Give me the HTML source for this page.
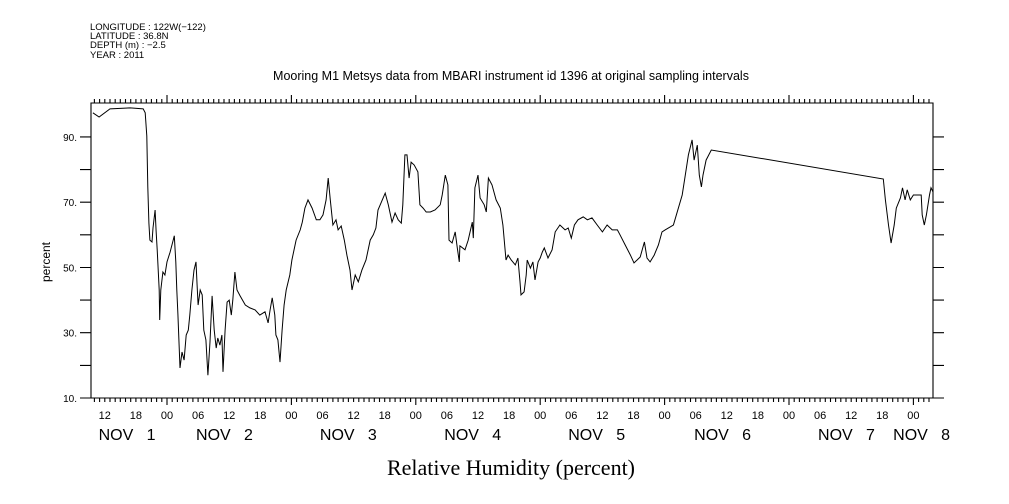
<!DOCTYPE html>
<html><head><meta charset="utf-8">
<style>
body{margin:0;background:#fff;}
svg{display:block;font-family:"Liberation Sans",sans-serif;}
</style></head>
<body>
<svg id="chart" width="1009" height="504" viewBox="0 0 1009 504" xmlns="http://www.w3.org/2000/svg">
<g font-size="9.5" fill="#000">
<text x="90" y="30">LONGITUDE : 122W(−122)</text>
<text x="90" y="39">LATITUDE : 36.8N</text>
<text x="90" y="48">DEPTH (m) : −2.5</text>
<text x="90" y="58">YEAR : 2011</text>
</g>
<text x="511" y="80" font-size="12.5" text-anchor="middle">Mooring M1 Metsys data from MBARI instrument id 1396 at original sampling intervals</text>
<text x="0" y="0" font-size="12" text-anchor="middle" transform="translate(50,262) rotate(-90)">percent</text>
<text x="511" y="475" font-size="22" font-family="Liberation Serif, serif" text-anchor="middle">Relative Humidity (percent)</text>
<g id="axes"></g>
<path id="series" fill="none" stroke="#000" stroke-width="1"/>
</svg>
<script>
const hours=[-14.3,-13.1,-11.0,-7.1,-4.6,-4.2,-4.1,-3.9,-3.7,-3.5,-3.3,-2.9,-2.7,-2.3,-2.1,-1.9,-1.5,-1.4,-1.2,-0.8,-0.4,0,0.6,1.2,1.4,1.7,1.9,2.1,2.3,2.5,2.9,3.3,3.7,4.1,4.4,4.8,5.2,5.6,5.8,6.0,6.4,6.8,7.1,7.5,7.9,8.3,8.7,9.1,9.5,9.8,10.2,10.6,10.8,11.2,11.6,12.0,12.4,12.7,13.1,13.5,14.1,15.1,16.0,17.0,17.9,18.9,19.5,19.9,20.3,20.8,21.0,21.4,21.8,22.2,22.6,23.0,23.7,24.1,24.9,25.7,26.1,26.6,27.2,28.0,28.8,29.5,30.1,30.7,31.1,31.5,32.0,32.6,33.0,33.6,34.2,34.7,35.3,35.7,36.3,36.9,37.6,38.4,39.2,39.8,40.3,40.7,42.1,42.7,43.4,44.0,44.6,45.2,45.5,45.9,46.3,46.7,47.1,47.7,48.4,48.8,49.4,50.0,50.8,51.7,52.7,53.1,53.7,54.2,54.4,55.0,55.6,56.0,56.4,56.5,57.5,58.1,58.9,59.1,59.4,60.0,60.4,61.2,61.6,62.0,62.7,63.5,64.3,64.8,65.4,65.8,66.4,67.2,67.7,68.1,68.3,68.9,69.3,69.5,70.1,70.6,71.0,71.6,72.0,72.4,72.8,73.5,74.3,74.9,75.8,76.8,77.4,78.0,78.6,79.3,80.3,81.1,82.0,83.0,84.0,84.9,85.9,86.9,87.4,88.4,89.4,90.1,90.7,91.3,92.1,92.6,93.2,94.0,94.8,95.5,96.1,97.7,99.4,100.0,100.6,101.3,101.7,102.3,102.7,103.1,103.4,104.0,105.0,138.2,138.6,139.2,139.7,140.3,140.7,141.5,141.9,142.4,142.8,143.4,144.0,144.8,145.5,145.7,146.1,146.5,147.1,147.4,147.8];
const humidity=[97.4,96.1,98.6,98.9,98.6,97.4,95.2,90.3,74.7,63.6,58.4,57.8,62.1,67.6,61.2,55.4,43.1,33.9,43.1,48.6,47.7,51.7,54.7,58.4,59.7,51.7,43.1,35.7,27.8,19.2,24.1,21.6,29.3,30.8,35.4,43.1,49.2,51.7,44.6,38.5,43.1,41.6,30.8,27.8,17.0,27.2,41.3,30.8,25.3,28.4,26.2,29.3,18.0,30.8,39.4,40.0,35.4,40.0,48.6,43.1,41.3,38.5,37.6,37.0,35.4,36.4,33.0,37.0,40.7,35.4,29.3,27.8,21.0,30.8,38.5,43.1,47.7,52.3,58.4,61.5,63.9,68.2,70.7,68.2,64.6,64.6,66.1,70.7,77.4,70.7,63.0,64.6,61.5,62.7,58.4,53.8,49.2,43.1,47.7,45.6,49.2,52.3,58.4,60.0,62.1,67.6,72.8,69.2,63.9,66.7,64.6,63.6,69.2,84.5,84.5,77.4,82.3,81.4,79.3,69.2,68.2,67.0,67.0,67.6,69.2,72.2,78.3,75.3,58.4,57.5,60.9,56.0,51.7,56.6,55.4,58.4,63.9,59.0,74.4,78.3,71.3,69.2,67.0,77.4,75.3,70.7,68.2,63.0,52.3,53.8,52.3,50.8,52.9,45.6,41.6,42.5,47.7,52.3,49.8,51.7,46.2,51.7,52.9,54.7,56.0,52.9,55.4,60.9,63.0,61.5,62.1,59.0,63.0,64.6,65.5,64.6,65.2,63.0,60.9,63.0,61.5,61.5,60.0,56.9,53.8,51.4,52.3,53.2,57.8,52.9,51.7,53.8,56.9,60.9,61.5,63.0,72.2,78.3,84.5,89.1,82.9,87.5,78.3,74.7,78.3,82.9,86.0,77.1,70.7,63.0,57.5,63.0,68.2,71.3,74.4,70.7,73.8,70.7,72.2,72.2,72.2,66.1,63.0,66.1,72.2,74.4,73.1];
const yTickValues=[10,20,30,40,50,60,70,80,90];
const yTickLabels=["10.","","30.","","50.","","70.","","90."];
const hourLabels=["12","18","00","06","12","18","00","06","12","18","00","06","12","18","00","06","12","18","00","06","12","18","00","06","12","18","00"];
const dayLabels=["NOV   1","NOV   2","NOV   3","NOV   4","NOV   5","NOV   6","NOV   7","NOV   8"];
const dayLabelHours=[-13.2,5.6,29.5,53.5,77.4,101.7,125.6,140.1];

const L=91,R=933,T=103,B=398;
const x0=167,pxPerHour=124.4/24;
const yMin=10,yMax=100.4;
const xs=h=>x0+h*pxPerHour;
const ys=v=>B-(v-yMin)/(yMax-yMin)*(B-T);
const NS="http://www.w3.org/2000/svg";
const axes=document.getElementById('axes');
function mk(tag,attrs,parent){const e=document.createElementNS(NS,tag);for(const k in attrs)e.setAttribute(k,attrs[k]);(parent||axes).appendChild(e);return e;}
let d=`M${L},${T}H${R}V${B}H${L}Z`;
const hStart=Math.ceil((L-x0)/pxPerHour),hEnd=Math.floor((R-x0)/pxPerHour);
for(let h=hStart;h<=hEnd;h++){const x=xs(h).toFixed(1);const major=((h%24)+24)%24===0;d+=`M${x},${B}V${B+(major?7:4)}M${x},${T}V${T-(major?8:4)}`;}
yTickValues.forEach(v=>{const y=ys(v).toFixed(1);d+=`M${L-11},${y}H${L}M${R},${y}H${R+11}`;});
const frame=mk('path',{d:d,stroke:'#000','stroke-width':1.1,fill:'none'});


yTickValues.forEach((v,i)=>{if(!yTickLabels[i])return;const t=mk('text',{x:L-14,y:ys(v)+4,'font-size':10,'text-anchor':'end'});t.textContent=yTickLabels[i];

});
hourLabels.forEach((lab,i)=>{const h=-12+i*6;const t=mk('text',{x:xs(h),y:419,'font-size':11,'text-anchor':'middle'});t.textContent=lab;

});
dayLabels.forEach((lab,i)=>{const t=mk('text',{x:xs(dayLabelHours[i]),y:440,'font-size':16});t.setAttribute('style','white-space:pre');t.textContent=lab;

});
document.getElementById('series').setAttribute('d',hours.map((h,i)=>(i?'L':'M')+xs(h).toFixed(1)+','+ys(humidity[i]).toFixed(1)).join(''));
</script>
</body></html>
